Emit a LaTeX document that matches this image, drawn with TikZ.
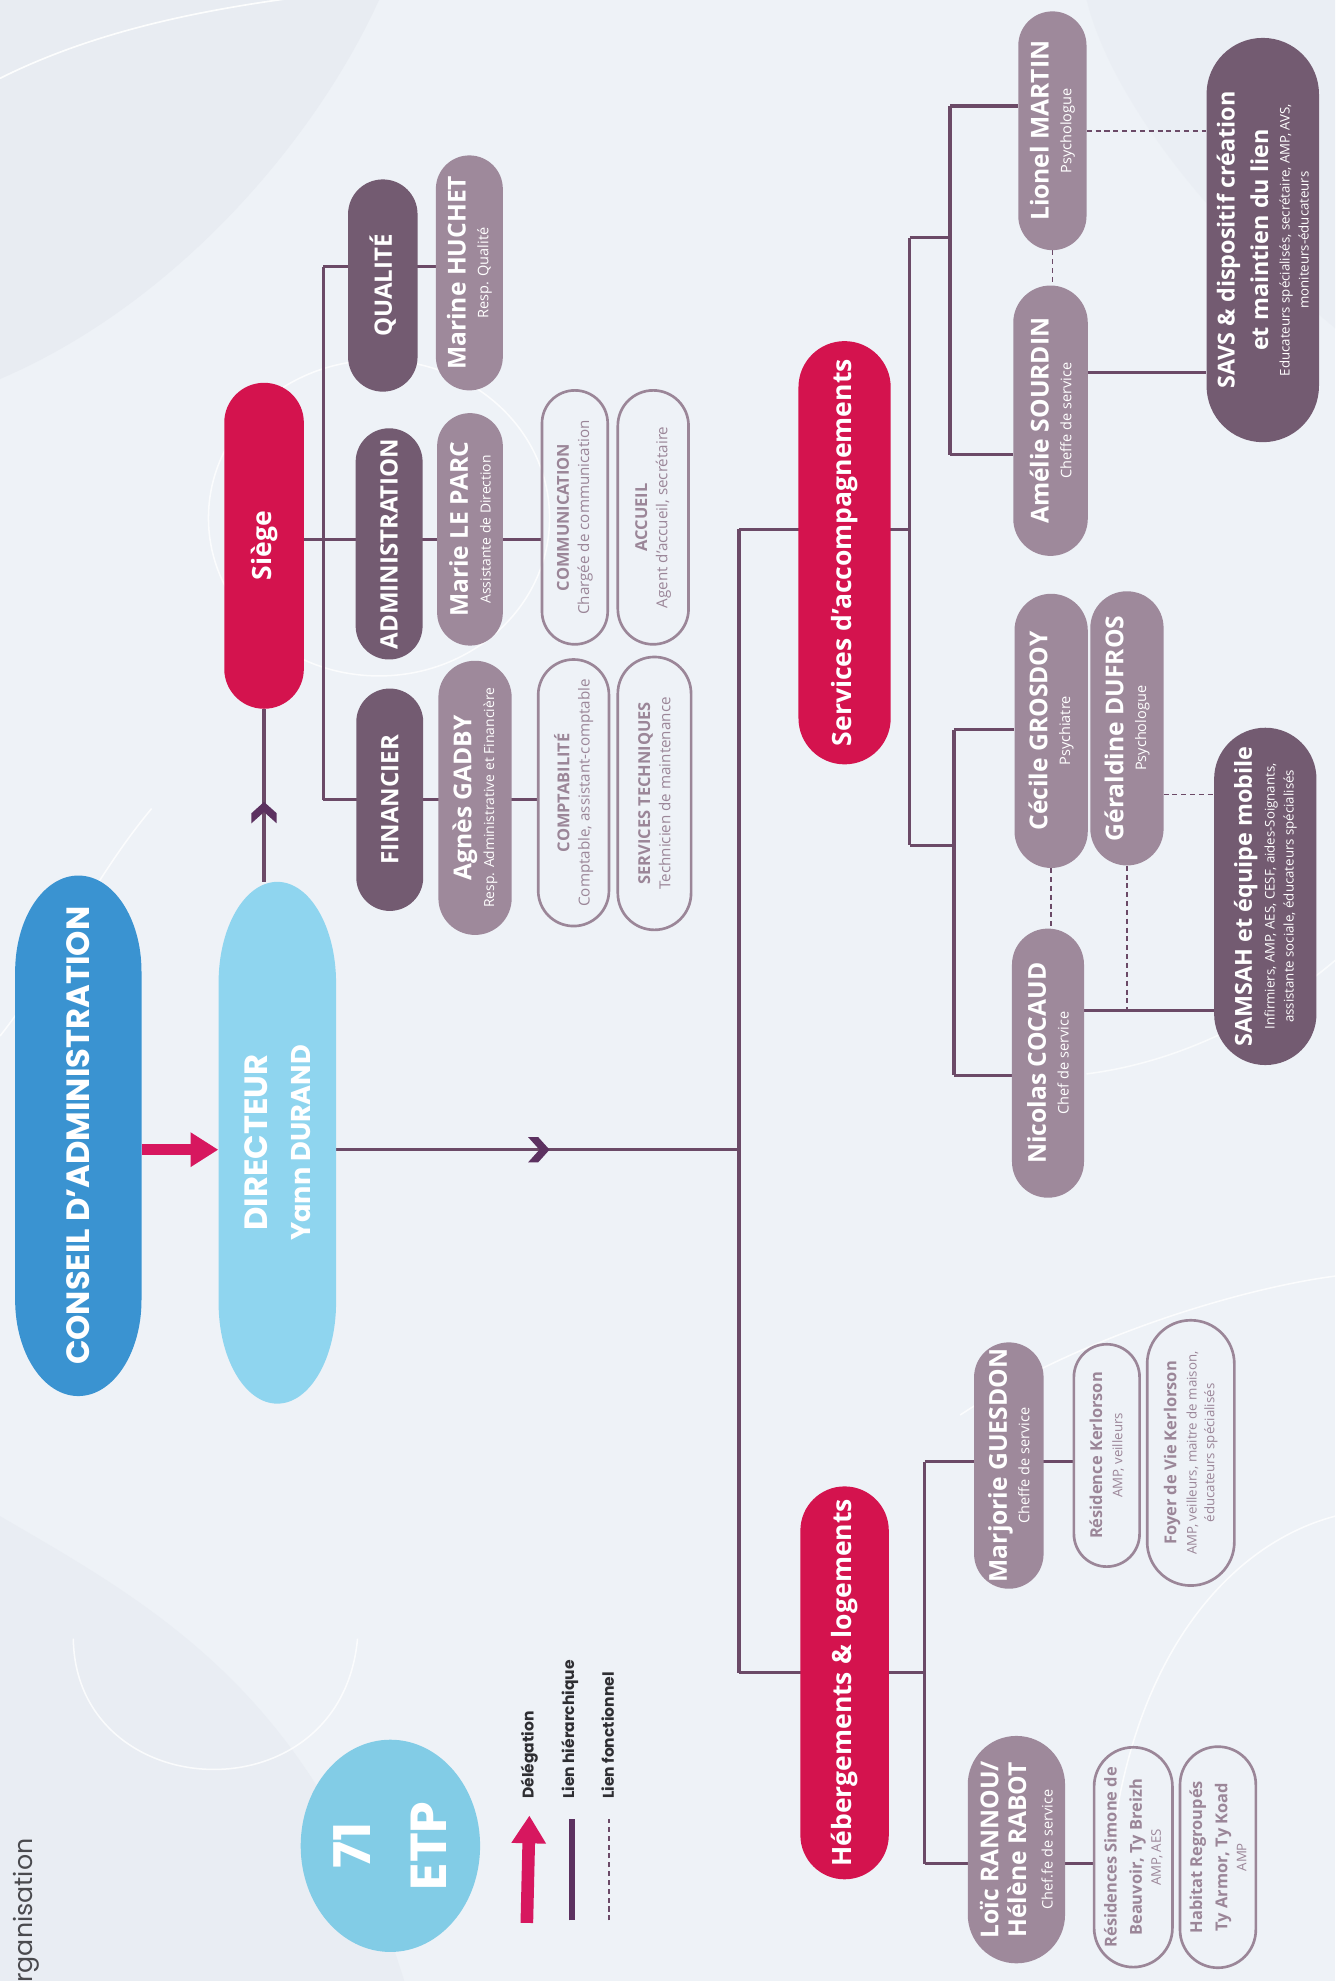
\documentclass[tikz,border=0pt]{standalone}
\usepackage{fontspec}
\setmainfont{Open Sans}
\newfontfamily\popfont{Poppins}
\usetikzlibrary{positioning,arrows.meta,backgrounds,decorations.markings,shapes.geometric,calc}

\definecolor{bgcol}{HTML}{EEF2F7}
\definecolor{hazecol}{HTML}{E1E5EC}
\definecolor{cablue}{HTML}{3A93D1}
\definecolor{dirblue}{HTML}{8FD5EF}
\definecolor{etpblue}{HTML}{82CCE6}
\definecolor{crimson}{HTML}{D4134E}
\definecolor{catcol}{HTML}{735B71}
\definecolor{perscol}{HTML}{9E899B}
\definecolor{outcol}{HTML}{9B8698}
\definecolor{linkcol}{HTML}{6B4A67}
\definecolor{chevcol}{HTML}{5C3160}
\definecolor{delegcol}{HTML}{D7175F}
\definecolor{legtext}{HTML}{2E2E32}
\definecolor{orgtext}{HTML}{4A4A4E}

\pgfdeclarelayer{paper}
\pgfsetlayers{paper,background,main}

\newcommand\namef{\fontsize{19.5}{20}\selectfont\bfseries}
\newcommand\outf{\fontsize{13}{16}\selectfont\bfseries}
\newcommand\teamf{\fontsize{18.5}{20}\selectfont\bfseries}
% vertical pill with long elliptic ends: colour, left x, top y, right x, bottom y, end length
\newcommand\ovalpill[6]{\fill[#1] (#2,#3+#6) arc[start angle=180, end angle=0, x radius={(#4-#2)/2*1pt}, y radius=#6pt] -- (#4,#5-#6) arc[start angle=0, end angle=-180, x radius={(#4-#2)/2*1pt}, y radius=#6pt] -- cycle;}

\begin{document}
\begin{tikzpicture}[
    x=1pt, y=-1pt,
    every node/.style={rotate=90, inner sep=1pt, align=center},
    pill/.style n args={2}{minimum width=#1pt, minimum height=#2pt, rounded corners=#2/2*1pt},
    topnode/.style={text=white, font=\popfont\bfseries\fontsize{25.5}{34}\selectfont},
    polenode/.style={fill=crimson, text=white, font=\fontsize{21}{24}\selectfont\bfseries},
    catnode/.style={fill=catcol, text=white, font=\fontsize{19}{22}\selectfont\bfseries},
    persnode/.style={fill=perscol, text=white, font=\fontsize{11.5}{18}\selectfont},
    outnode/.style={draw=outcol, line width=2.1pt, text=outcol, font=\fontsize{12}{16}\selectfont},
    teamnode/.style={fill=catcol, text=white, font=\fontsize{10.5}{15}\selectfont},
    legnode/.style={text=legtext, font=\popfont\bfseries\fontsize{12.3}{14}\selectfont},
    link/.style={linkcol, line width=2.6pt},
    flink/.style={linkcol, line width=1.2pt, dash pattern=on 4pt off 3pt},
    deleg/.style={delegcol, line width=9pt, -{Triangle[length=22pt, width=26pt]}},
    chev/.style={postaction={decorate, decoration={markings, mark=at position #1 with {\fill[chevcol] (3pt,0pt) -- (-6pt,-10pt) -- (-14pt,-10pt) -- (-5pt,0pt) -- (-14pt,10pt) -- (-6pt,10pt) -- cycle;}}}}
]
\useasboundingbox (0,0) rectangle (1057,1568);

% paper and soft background shapes
\begin{pgfonlayer}{paper}
    \fill[bgcol] (0,0) rectangle (1057,1568);
    \fill[hazecol, opacity=0.45] (0,0) -- (300,0) .. controls (250,110) and (140,240) .. (0,300) -- cycle;
    \fill[hazecol, opacity=0.35] (0,1200) .. controls (120,1270) and (250,1340) .. (320,1568) -- (0,1568) -- cycle;
    \fill[hazecol, opacity=0.25] (1057,0) -- (1057,260) .. controls (960,180) and (880,80) .. (860,0) -- cycle;
    \draw[white, line width=1.3pt, opacity=0.9] (0,62) .. controls (80,22) and (170,6) .. (250,-4);
    \draw[white, line width=1.2pt, opacity=0.8] (300,410) ellipse[x radius=135, y radius=125];
    \draw[white, line width=1.2pt, opacity=0.8] (58,1297) .. controls (60,1430) and (270,1440) .. (283,1297);
    \draw[white, line width=1.2pt, opacity=0.8] (0,820) .. controls (40,770) and (70,700) .. (120,640);
    \draw[white, line width=1.2pt, opacity=0.8] (760,1120) .. controls (850,1060) and (980,1020) .. (1057,1010);
    \draw[white, line width=1.2pt, opacity=0.8] (880,1460) .. controls (900,1300) and (980,1220) .. (1057,1200);
    \draw[white, line width=1.2pt, opacity=0.7] (860,850) .. controls (940,840) and (1010,800) .. (1057,760);
\end{pgfonlayer}

% top of the chart
\ovalpill{cablue}{12}{693}{112}{1105}{76}
\ovalpill{dirblue}{173}{698}{266}{1111}{80}
\node[topnode, minimum width=412pt, minimum height=100pt] (conseil) at (62,899) {CONSEIL D’ADMINISTRATION};
\node[topnode, minimum width=413pt, minimum height=93pt] (directeur) at (219.5,904.5) {DIRECTEUR\\{\fontsize{21.5}{34}\selectfont Yann DURAND}};

% siege
\node[polenode, pill={258}{63}] (siege) at (209,432) {Siège};
\node[catnode, pill={168}{55}] (qualite) at (303,226) {QUALITÉ};
\node[persnode, pill={186}{53}] (marine) at (371.5,216) {{\namef Marine HUCHET}\\Resp. Qualité};
\node[catnode, pill={183}{53}] (admin) at (308,430.5) {ADMINISTRATION};
\node[persnode, pill={184}{52}, font=\fontsize{11}{18}\selectfont] (marie) at (372,419) {{\namef Marie LE PARC}\\Assistante de Direction};
\node[outnode, pill={201}{52}] (comm) at (455,409.5) {{\outf COMMUNICATION}\\Chargée de communication};
\node[outnode, pill={201}{56}] (accueil) at (517,409.5) {{\outf ACCUEIL}\\Agent d’accueil, secrétaire};
\node[catnode, pill={176}{53}] (financier) at (308.5,633) {FINANCIER};
\node[persnode, pill={217}{58}, font=\fontsize{11}{18}\selectfont] (agnes) at (376,631.5) {{\namef Agnès GADBY}\\Resp. Administrative et Financière};
\node[outnode, pill={211}{56}] (compta) at (454,627.5) {{\outf COMPTABILITÉ}\\Comptable, assistant-comptable};
\node[outnode, pill={216}{58}] (servtech) at (518,628) {{\outf SERVICES TECHNIQUES}\\Technicien de maintenance};

% services d'accompagnements
\node[polenode, pill={335}{73}] (services) at (668.5,437.5) {Services d’accompagnements};
\node[persnode, pill={189}{54}] (lionel) at (833,103.5) {{\namef Lionel MARTIN}\\Psychologue};
\node[persnode, pill={214}{59}] (amelie) at (831.5,333) {{\namef Amélie SOURDIN}\\Cheffe de service};
\node[teamnode, pill={320}{89}] (savs) at (999.5,190) {{\teamf SAVS \& dispositif création}\\[7pt]{\teamf et maintien du lien}\\[2pt]Educateurs spécialisés, secrétaire, AMP, AVS,\\moniteurs-éducateurs};
\node[persnode, pill={217}{58}] (cecile) at (832,578.5) {{\namef Cécile GROSDOY}\\Psychiatre};
\node[persnode, pill={217}{58}] (geraldine) at (892,576.5) {{\namef Géraldine DUFROS}\\Psychologue};
\node[persnode, pill={213}{57}] (nicolas) at (829.5,841.5) {{\namef Nicolas COCAUD}\\Chef de service};
\node[teamnode, pill={267}{81}] (samsah) at (1001.5,709.5) {{\teamf SAMSAH et équipe mobile}\\[3pt]Infirmiers, AMP, AES, CESF, aides-Soignants,\\assistante sociale, éducateurs spécialisés};

% hebergements
\node[polenode, pill={311}{70}] (heberg) at (668.5,1332) {Hébergements \& logements};
\node[persnode, pill={195}{55}] (marjorie) at (798.5,1160) {{\namef Marjorie GUESDON}\\Cheffe de service};
\node[outnode, pill={176}{52}, font=\fontsize{10.5}{16}\selectfont] (kerl) at (876,1152) {{\outf Résidence Kerlorson}\\AMP, veilleurs};
\node[outnode, pill={210}{69}, font=\fontsize{10.5}{14}\selectfont] (foyer) at (942.5,1150) {{\outf Foyer de Vie Kerlorson}\\[2pt]AMP, veilleurs, maitre de maison,\\éducateurs spécialisés};
\node[persnode, pill={180}{77}, font=\fontsize{11.5}{22}\selectfont] (loic) at (804.5,1464) {{\namef Loïc RANNOU/}\\{\namef Hélène RABOT}\\[-1pt]Chef.fe de service};
\node[outnode, pill={174}{62}, font=\fontsize{10.5}{20}\selectfont] (simone) at (897,1470) {{\outf Résidences Simone de}\\{\outf Beauvoir, Ty Breizh}\\[-5pt]AMP, AES};
\node[outnode, pill={175}{60}, font=\fontsize{10.5}{20}\selectfont] (habitat) at (964,1470) {{\outf Habitat Regroupés}\\{\outf Ty Armor, Ty Koad}\\[-5pt]AMP};

% ETP, legend and page title
\node[ellipse, fill=etpblue, minimum width=168pt, minimum height=142pt, text=white, font=\popfont\bfseries\fontsize{40}{60}\selectfont] (etp) at (309,1461) {71\\ETP};
\node[legnode, anchor=west] (legdeleg) at (419,1425) {Délégation};
\node[legnode, anchor=west] (leghier) at (451,1425) {Lien hiérarchique};
\node[legnode, anchor=west] (legfonc) at (481,1425) {Lien fonctionnel};
\node[anchor=base east, inner sep=0pt, text=orgtext, font=\popfont\fontsize{20}{24}\selectfont] (orga) at (25.5,1455) {Organisation};

% junction points
\coordinate (tD) at (585,910);
\coordinate (tS) at (585,419);
\coordinate (tH) at (585,1324);
\coordinate (sq) at (256,211);
\coordinate (sa) at (256,427);
\coordinate (sf) at (256,633);
\coordinate (sA) at (720,188);
\coordinate (sB) at (720,669);
\coordinate (ua) at (752,84);
\coordinate (ub) at (752,360);
\coordinate (la) at (755,577.5);
\coordinate (lb) at (755,851);
\coordinate (asv) at (861,295);
\coordinate (gsm) at (921,629);
\coordinate (nsm) at (858,800);
\coordinate (ha) at (732,1157);
\coordinate (hb) at (732,1475);
\coordinate (ldeleg) at (417,1522);
\coordinate (lhier) at (453,1520);
\coordinate (lfonc) at (482,1520);

% hierarchical links
\begin{scope}[on background layer]
    \draw[link, chev=0.52] (directeur.south |- tD) -- (tD);
    \draw[link, chev=0.44] (siege.west |- directeur.east) -- (siege.west);
    \draw[link] (tS) -- (tH);
    \draw[link] (sq) -- (sf);
    \draw[link] (sq) -- (sq -| marine.north);
    \draw[link] (sa -| siege.south) -- (sa -| comm.north);
    \draw[link] (sf) -- (sf -| compta.north);
    \draw[link] (tS) -- (tS -| sA);
    \draw[link] (sA) -- (sB);
    \draw[link] (sA) -- (sA -| ua) (ua) -- (ub);
    \draw[link] (ua) -- (ua -| lionel.north);
    \draw[link] (ub) -- (ub -| amelie.north);
    \draw[link] (sB) -- (sB -| la) (la) -- (lb);
    \draw[link] (la) -- (la -| cecile.north);
    \draw[link] (lb) -- (lb -| nicolas.north);
    \draw[link] (asv) -- (asv -| savs.north);
    \draw[link] (nsm) -- (nsm -| samsah.north);
    \draw[link] (tH) -- (tH -| ha) (ha) -- (hb);
    \draw[link] (ha) -- (ha -| kerl.north);
    \draw[link] (hb) -- (hb -| simone.north);
    % functional links
    \draw[flink] (lionel.west) -- (lionel.west |- amelie.east);
    \draw[flink] (lionel.south) -- (lionel.south -| savs.north);
    \draw[flink] (cecile.west) -- (cecile.west |- nicolas.east);
    \draw[flink] (gsm) -- (gsm -| samsah.north);
    \draw[flink] (geraldine.west) -- (geraldine.west |- nsm);
\end{scope}

% delegation
\draw[deleg] (conseil.south |- tD) -- (directeur.north |- tD);

% legend marks
\draw[deleg, line width=10pt] (ldeleg) -- ($(legdeleg.west)+(0,12)$);
\draw[chevcol, line width=4.5pt] (lhier) -- ($(leghier.west)+(2,15)$);
\draw[flink] (lfonc) -- ($(legfonc.west)+(1,15)$);

\end{tikzpicture}
\end{document}
